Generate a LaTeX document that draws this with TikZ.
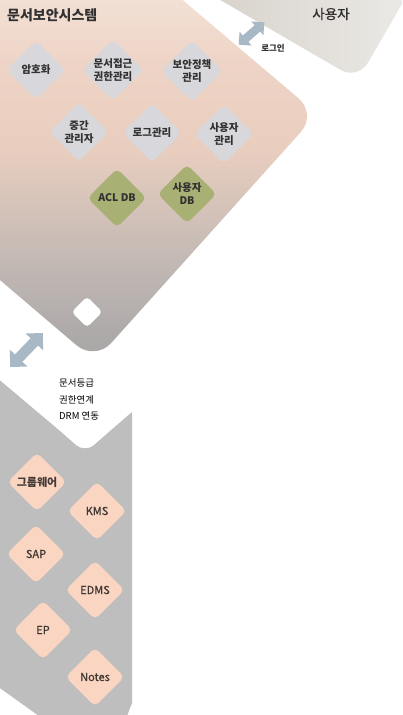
\documentclass[tikz,border=0pt]{standalone}
\usepackage{fontspec}
\setmainfont{Noto Sans CJK KR}
\newfontfamily\krmed{Noto Sans CJK KR}[FakeBold=0.9]
\usetikzlibrary{shapes.geometric,shapes.arrows}
\definecolor{userl}{RGB}{205,198,188}
\definecolor{userr}{RGB}{240,239,237}
\definecolor{botgray}{RGB}{190,190,190}
\definecolor{graydia}{RGB}{216,216,220}
\definecolor{greendia}{RGB}{168,176,116}
\definecolor{peachdia}{RGB}{250,214,194}
\definecolor{arrowc}{RGB}{168,184,196}
\definecolor{txtdark}{RGB}{50,48,48}
\definecolor{txtbrown}{RGB}{64,56,52}
\pgfdeclareverticalshading{bigshade}{100bp}{%
  color(0bp)=(rgb,255:red,168;green,166;blue,166);
  color(25bp)=(rgb,255:red,168;green,166;blue,166);
  color(28bp)=(rgb,255:red,174;green,170;blue,170);
  color(35.5bp)=(rgb,255:red,195;green,185;blue,180);
  color(41.7bp)=(rgb,255:red,215;green,196;blue,186);
  color(47bp)=(rgb,255:red,233;green,206;blue,191);
  color(56bp)=(rgb,255:red,238;green,212;blue,198);
  color(62.4bp)=(rgb,255:red,242;green,224;blue,212);
  color(75bp)=(rgb,255:red,246;green,232;blue,222);
  color(100bp)=(rgb,255:red,246;green,232;blue,222)}
\begin{document}
\begin{tikzpicture}[x=1pt,y=-1pt,
  dia/.style={diamond, aspect=1, minimum size=59pt, inner sep=0pt, rounded corners=5pt, align=center, text=txtdark, font=\fontsize{10.5}{13}\selectfont\bfseries},
  graybox/.style={dia, fill=graydia},
  greenbox/.style={dia, fill=greendia},
  peachbox/.style={dia, fill=peachdia, text=txtbrown, font=\fontsize{11}{13}\selectfont\krmed},
  whitebox/.style={diamond, aspect=1, minimum size=31pt, inner sep=0pt, rounded corners=4pt, fill=white},
  dblarrow/.style={double arrow, fill=arrowc, inner xsep=0pt, inner ysep=4pt, double arrow head extend=5pt}
]
\useasboundingbox (0,0) rectangle (402,715);
\fill[white] (0,0) rectangle (402,715);
\begin{scope}
\clip (0,0) rectangle (402,715);
% user shape
\shade[left color=userl, right color=userr, rounded corners=20pt]
  (358,80) -- (98,-71) -- (199,-244) -- (458,-93) -- cycle;
% big system shape
\shade[shading=bigshade, rounded corners=24pt]
  (40,-121) -- (317,114) -- (95,361) -- (-182,125) -- cycle;
% bottom gray shape
\fill[botgray] (-10,372) -- (60,431) [rounded corners=12pt] -- (85,453) -- (110,431) [sharp corners]
  -- (132,412) -- (132,703) -- (127,716) -- (39,716) -- (-10,681) -- cycle;
\end{scope}

% titles
\node[anchor=west, text=txtdark, font=\fontsize{14}{16}\selectfont\bfseries, inner sep=0pt] (title) at (7,15) {문서보안시스템};
\node[text=txtdark, font=\fontsize{13.5}{16}\selectfont\krmed, inner sep=0pt] (user) at (331,14) {사용자};
\node[text=txtdark, font=\fontsize{8.5}{10}\selectfont\bfseries, inner sep=0pt] (login) at (273,48) {로그인};

% arrows
\node[dblarrow, minimum height=34pt, rotate=41] (a1) at (251.5,33.5) {};
\node[dblarrow, minimum height=47pt, inner ysep=5pt, double arrow head extend=7pt, rotate=46] (a2) at (26.5,350) {};

% system modules
\node[graybox] (d1) at (36,70) {암호화};
\node[graybox] (d2) at (113,70) {문서접근\\권한관리};
\node[graybox] (d3) at (192,71) {보안정책\\관리};
\node[graybox] (d4) at (79,132) {중간\\관리자};
\node[graybox] (d5) at (152,133) {로그관리};
\node[graybox] (d6) at (224,134) {사용자\\관리};
\node[greenbox] (d7) at (117,198) {ACL DB};
\node[greenbox] (d8) at (187,194) {사용자\\DB};
\node[whitebox] (wd) at (87,312) {};

% link text
\node[anchor=west, align=left, text=black, font=\fontsize{9.5}{16.5}\selectfont, inner sep=0pt] (link) at (59,399.5) {문서등급\\권한연계\\DRM 연동};

% external systems
\node[peachbox, font=\fontsize{11}{13}\selectfont\bfseries] (e1) at (37,482) {그룹웨어};
\node[peachbox] (e2) at (97,511) {KMS};
\node[peachbox] (e3) at (36,554) {SAP};
\node[peachbox] (e4) at (95,590) {EDMS};
\node[peachbox] (e5) at (43,630) {EP};
\node[peachbox] (e6) at (95,677) {Notes};
\end{tikzpicture}
\end{document}
